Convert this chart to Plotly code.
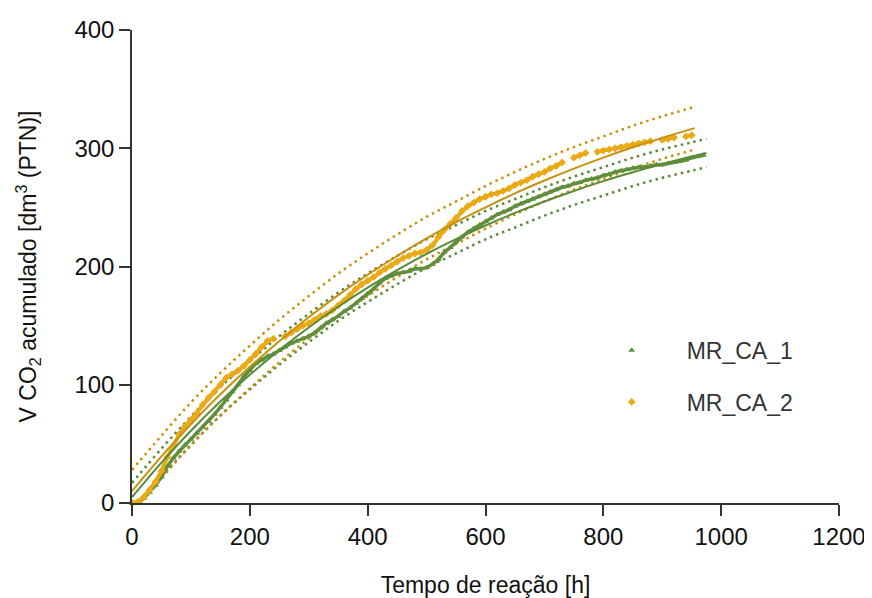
import plotly.graph_objects as go

# measured data, every 10 h
t_green = list(range(0, 980, 10))
v_green = [0, 1, 4, 9, 15, 22, 31, 38, 44, 49,
           54, 59, 64, 69, 75, 81, 87, 94, 100, 107,
           112, 118, 121, 124, 126, 129, 132, 135, 137, 139,
           141, 144, 148, 152, 155, 158, 162, 165, 169, 173,
           177, 181, 186, 190, 192, 194, 195, 196, 198, 198,
           199, 202, 206, 212, 216, 221, 225, 229, 232, 235,
           238, 241, 244, 246, 248, 251, 253, 255, 257, 259,
           261, 263, 265, 267, 268, 270, 271, 273, 274, 275,
           277, 278, 280, 281, 282, 283, 284, 284, 285, 286,
           286, 287, 288, 289, 290, 292, 293, 294]

t_orange = list(range(0, 960, 10))
v_orange = [0, 1, 5, 11, 18, 27, 39, 48, 58, 65,
            70, 76, 83, 89, 94, 100, 106, 109, 112, 116,
            121, 126, 132, 137, 139, None, 141, 144, 147, 150,
            152, 155, 158, 160, 163, 167, 171, 176, 181, 185,
            188, 191, 195, 198, 201, 204, 207, 209, 211, 212,
            214, 218, 225, 231, 236, 241, 247, 251, 254, 257,
            259, 261, 262, 264, 266, 269, 271, 273, 276, 278,
            280, 283, 285, 288, None, 292, 294, 296, None, 297,
            298, 299, 300, 301, 302, 303, 304, 305, 306, None,
            307, 308, 309, None, 310, 311]

# fitted curves and bands
t_fit_green = [0, 50, 100, 150, 200, 250, 300, 350, 400, 450, 500,
               550, 600, 650, 700, 750, 800, 850, 900, 950, 975]
fit_green = [5, 34.2, 61.1, 85.8, 108.4, 129.3, 148.4, 166.0, 182.2, 197.0, 210.7,
             223.2, 234.7, 245.3, 255.0, 263.9, 272.2, 279.7, 286.6, 293.0, 296.0]
up_green = [17, 46, 73, 98, 120, 141, 160, 178, 194, 209, 223,
            235, 247, 257, 267, 276, 284, 292, 299, 305, 308]
lo_green = [-7, 22, 49, 74, 96, 117, 136, 154, 170, 185, 199,
            211, 223, 233, 243, 252, 260, 268, 275, 281, 284]

t_fit_orange = [0, 50, 100, 150, 200, 250, 300, 350, 400, 450,
                500, 550, 600, 650, 700, 750, 800, 850, 900, 955]
fit_orange = [10, 39.4, 66.6, 91.9, 115.2, 136.8, 157.1, 175.8, 193.0, 208.9,
              223.7, 237.5, 250.0, 261.9, 272.7, 282.8, 292.1, 300.8, 308.8, 317]
up_orange = [28, 57, 85, 110, 133, 155, 175, 194, 211, 227,
             242, 255, 268, 280, 291, 301, 310, 319, 327, 335]
lo_orange = [-8, 21, 49, 74, 97, 119, 139, 158, 175, 191,
             206, 219, 232, 244, 255, 265, 274, 283, 291, 299]

GREEN = '#5f8f3c'
GREEN_LINE = '#5a8a38'
ORANGE = '#e9aa16'
ORANGE_LINE = '#c8900f'
FONT = 'Liberation Sans, Arial, sans-serif'

fig = go.Figure()

for t, y, c in [(t_fit_green, up_green, GREEN_LINE), (t_fit_green, lo_green, GREEN_LINE),
                (t_fit_orange, up_orange, ORANGE_LINE), (t_fit_orange, lo_orange, ORANGE_LINE)]:
    fig.add_trace(go.Scatter(x=t, y=y, mode='lines', showlegend=False, hoverinfo='skip',
                             line=dict(color=c, width=2.5, dash='2.5px,4px', shape='spline')))

# thin line under the markers so the dense series read as a band
fig.add_trace(go.Scatter(x=t_green, y=v_green, mode='lines', showlegend=False, hoverinfo='skip',
                         line=dict(color=GREEN, width=3.5)))
fig.add_trace(go.Scatter(x=t_green, y=v_green, mode='markers', name='MR_CA_1',
                         marker=dict(symbol='triangle-up', size=6, color=GREEN),
                         cliponaxis=False, legend='legend'))
fig.add_trace(go.Scatter(x=t_orange, y=v_orange, mode='lines', showlegend=False, hoverinfo='skip',
                         line=dict(color=ORANGE, width=4)))
fig.add_trace(go.Scatter(x=t_orange, y=v_orange, mode='markers', name='MR_CA_2',
                         marker=dict(symbol='diamond', size=6, color=ORANGE),
                         cliponaxis=False, legend='legend2'))

fig.add_trace(go.Scatter(x=t_fit_green, y=fit_green, mode='lines', showlegend=False,
                         line=dict(color=GREEN_LINE, width=2, shape='spline')))
fig.add_trace(go.Scatter(x=t_fit_orange, y=fit_orange, mode='lines', showlegend=False,
                         line=dict(color=ORANGE_LINE, width=2, shape='spline')))

axis_style = dict(showgrid=False, zeroline=False, showline=True, linecolor='#333333',
                  linewidth=1.5, ticks='outside', ticklen=11, tickwidth=1.5, automargin=False,
                  tickcolor='#333333', tickfont=dict(size=24, color='#111111', family=FONT))

legend_style = dict(font=dict(size=23, color='#333333', family=FONT), itemwidth=100,
                    bgcolor='rgba(0,0,0,0)', xanchor='left', yanchor='middle')

# page body has an 8px margin, so the figure is 8px smaller and offset
fig.update_layout(
    width=864, height=590,
    margin=dict(l=124, r=33, t=22, b=95),
    plot_bgcolor='white', paper_bgcolor='white',
    font=dict(family=FONT, color='#111111'),
    xaxis=dict(range=[0, 1200], tickvals=[0, 200, 400, 600, 800, 1000, 1200],
               title=dict(text='Tempo de reação [h]', font=dict(size=23), standoff=30),
               **axis_style),
    yaxis=dict(range=[0, 400], tickvals=[0, 100, 200, 300, 400],
               title=dict(text='V CO<sub>2</sub> acumulado [dm<sup>3</sup> (PTN)]',
                          font=dict(size=23), standoff=31),
               **axis_style),
    legend=dict(x=0.629, y=0.323, **legend_style),
    legend2=dict(x=0.629, y=0.2135, **legend_style),
)

fig.write_html('out.html', config={'displayModeBar': False, 'responsive': False})
